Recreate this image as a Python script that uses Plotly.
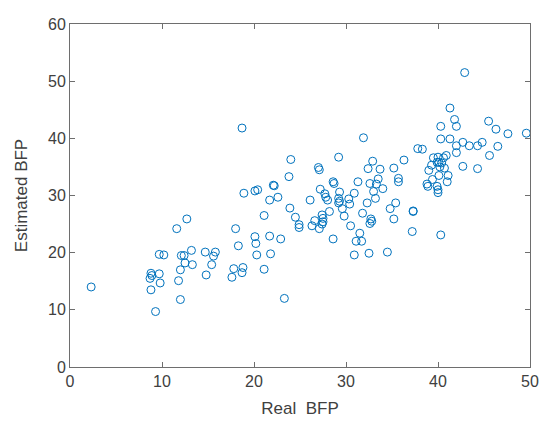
import plotly.graph_objects as go

real_bfp = [
    2.3, 8.8, 8.7, 8.8, 8.9, 9.3, 9.7, 9.8, 9.7, 10.2,
    11.6, 12.7, 11.8, 12.0, 12.0, 12.1, 12.4, 12.5, 13.2, 13.3,
    14.7, 15.8, 15.6, 15.4, 14.8, 18.0, 18.3, 17.6, 17.8, 18.7,
    18.8, 20.1, 20.2, 20.3, 21.1, 21.7, 21.8, 22.9, 23.3, 21.1,
    21.7, 22.6, 18.9, 20.1, 20.4, 23.9, 24.5, 24.9, 24.9, 18.7,
    24.0, 23.8, 22.1, 22.2, 26.1, 27.0, 27.1, 27.2, 26.6, 26.3,
    27.1, 31.9, 29.2, 32.9, 32.4, 33.7, 35.2, 36.3, 35.7, 35.7,
    33.5, 28.6, 28.7, 31.3, 32.6, 33.3, 34.0, 33.0, 30.9, 29.3,
    27.7, 27.8, 28.0, 29.2, 29.3, 29.2, 30.3, 30.4, 33.2, 32.3,
    29.6, 28.2, 31.8, 34.8, 35.4, 29.8, 27.4, 27.5, 27.5, 27.4,
    32.7, 32.8, 32.6, 35.2, 30.5, 31.5, 31.1, 31.7, 28.6, 30.9,
    32.5, 34.5, 37.3, 37.3, 37.2, 40.3, 42.9, 41.3, 41.8, 42.0,
    40.3, 40.3, 41.3, 45.5, 46.3, 47.6, 49.6, 42.0, 42.7, 43.4,
    44.3, 44.8, 42.0, 46.5, 45.6, 42.7, 44.3, 37.8, 38.3, 39.5,
    40.0, 40.6, 40.9, 39.3, 39.9, 40.1, 40.4, 40.2, 40.7, 39.0,
    40.1, 41.1, 39.4, 41.0, 38.8, 38.9, 39.9, 40.0, 40.0,
]
estimated_bfp = [
    14.0, 13.5, 15.5, 16.4, 16.0, 9.7, 16.3, 14.7, 19.7, 19.6,
    24.2, 25.9, 15.1, 11.8, 17.0, 19.5, 19.5, 18.2, 20.4, 17.9,
    20.1, 20.1, 19.4, 17.9, 16.1, 24.2, 21.2, 15.7, 17.2, 16.5,
    17.4, 22.8, 21.6, 19.6, 17.1, 22.9, 19.8, 22.4, 12.0, 26.5,
    29.2, 29.7, 30.4, 30.8, 31.0, 27.8, 26.2, 24.9, 24.4, 41.8,
    36.3, 33.3, 31.8, 31.7, 29.2, 34.9, 34.5, 31.1, 25.6, 24.7,
    24.2, 40.1, 36.7, 36.0, 34.7, 34.6, 34.8, 36.2, 33.0, 32.4,
    32.9, 32.4, 32.1, 32.4, 32.1, 32.0, 31.2, 30.7, 30.4, 30.6,
    30.3, 29.7, 29.2, 29.5, 29.0, 28.7, 29.4, 28.5, 29.5, 28.7,
    27.7, 27.2, 26.9, 27.7, 28.7, 26.4, 26.6, 26.0, 25.4, 25.0,
    25.9, 25.5, 25.1, 25.9, 24.7, 23.4, 22.0, 22.0, 22.4, 19.6,
    19.9, 20.1, 27.3, 27.2, 23.7, 23.1, 51.5, 45.3, 43.3, 42.1,
    42.1, 39.9, 39.9, 43.0, 41.6, 40.8, 40.9, 38.7, 39.3, 38.7,
    38.7, 39.3, 37.5, 38.6, 37.0, 35.1, 34.7, 38.2, 38.1, 36.6,
    36.7, 36.6, 37.0, 35.3, 35.8, 35.8, 35.7, 35.0, 34.8, 34.4,
    33.5, 33.5, 32.8, 32.4, 32.0, 31.6, 31.6, 31.0, 30.5,
]

x_ticks = [0, 10, 20, 30, 40, 50]
y_ticks = [0, 10, 20, 30, 40, 50, 60]

fig = go.Figure()
fig.add_trace(go.Scatter(
    x=real_bfp, y=estimated_bfp, mode="markers",
    marker=dict(symbol="circle-open", size=8, color="#0072BD",
                line=dict(width=1, color="#0072BD")),
    showlegend=False,
))

axis_common = dict(
    showgrid=False, zeroline=False, showline=True, mirror="ticks",
    linecolor="#6e6e6e", linewidth=1, ticks="inside", ticklen=5,
    tickcolor="#6e6e6e", tickwidth=1, automargin=False,
    tickfont=dict(family="Liberation Sans, Arial, sans-serif", size=16, color="#404040"),
    title_font=dict(family="Liberation Sans, Arial, sans-serif", size=17, color="#404040"),
)

fig.update_layout(
    width=543, height=428,
    margin=dict(l=70, r=13, t=24, b=61),
    paper_bgcolor="white", plot_bgcolor="white",
    xaxis=dict(range=[0, 50], tickvals=x_ticks, title=dict(text="Real\u00a0\u00a0BFP", standoff=12), **axis_common),
    yaxis=dict(range=[0, 60], tickvals=y_ticks, title=dict(text="Estimated BFP", standoff=16), **axis_common),
)

fig.write_html("out.html")
